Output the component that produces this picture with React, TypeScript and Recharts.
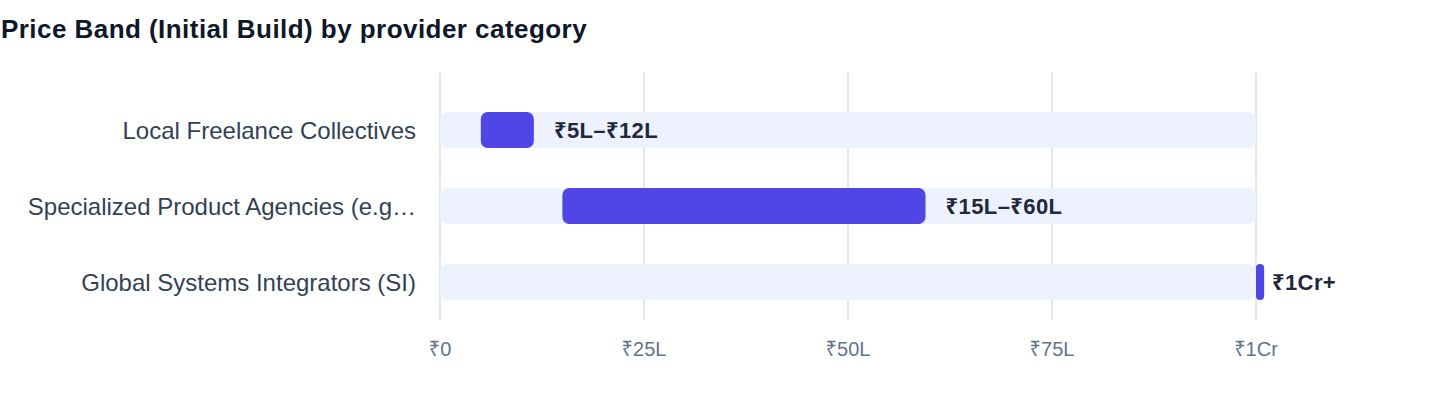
import React from 'react';
import { BarChart, Bar, XAxis, YAxis, CartesianGrid, LabelList } from 'recharts';

const categories = [
  'Local Freelance Collectives',
  'Specialized Product Agencies (e.g…',
  'Global Systems Integrators (SI)',
];
const lows = [5, 15, 100];
const highs = [11.5, 59.5, 101];
const labelAt = [12, 60, 100];
const bandLabels = ['₹5L–₹12L', '₹15L–₹60L', '₹1Cr+'];
const xTicks = [0, 25, 50, 75, 100];
const xTickLabels: Record<number, string> = { 0: '₹0', 25: '₹25L', 50: '₹50L', 75: '₹75L', 100: '₹1Cr' };

const data = categories.map((name, i) => ({
  name,
  track: [0, 100],
  range: [lows[i], highs[i]],
  anchor: [0, labelAt[i]],
  label: bandLabels[i],
}));

const FONT = '"Liberation Sans", Arial, "Noto Sans", sans-serif';

const App: React.FC = () => {
  return (
    <div style={{ position: 'absolute', left: 0, top: 0, width: 1440, height: 408, fontFamily: FONT }}>
      <div
        style={{
          position: 'absolute',
          left: 1,
          top: 16,
          fontSize: 26,
          lineHeight: 1,
          fontWeight: 700,
          color: '#0f172a',
          letterSpacing: 0.45,
          whiteSpace: 'nowrap',
        }}
      >
        Price Band (Initial Build) by provider category
      </div>
      <BarChart
        width={1440}
        height={408}
        data={data}
        layout="vertical"
        margin={{ top: 72, right: 102.4, bottom: 48, left: 0 }}
        barSize={36}
        barGap={-36}
      >
        <CartesianGrid horizontal={false} verticalValues={xTicks} stroke="#e2e8f0" strokeWidth={2} />
        <XAxis
          type="number"
          domain={[0, 110]}
          ticks={xTicks}
          tickFormatter={(v: number) => xTickLabels[v]}
          axisLine={false}
          tickLine={false}
          tickSize={0}
          tickMargin={22}
          height={40}
          tick={{ fill: '#64748b', fontSize: 20, fontFamily: FONT }}
          allowDataOverflow
        />
        <YAxis
          type="category"
          dataKey="name"
          width={440}
          axisLine={false}
          tickLine={false}
          tickSize={0}
          tickMargin={24}
          padding={{ top: 20, bottom: 0 }}
          tick={{ fill: '#334155', fontSize: 24, fontFamily: FONT }}
        />
        <Bar dataKey="track" fill="#eef2ff" radius={7} isAnimationActive={false} />
        <Bar dataKey="range" fill="#4f46e5" radius={7} isAnimationActive={false} />
        <Bar dataKey="anchor" fill="transparent" isAnimationActive={false}>
          <LabelList
            dataKey="label"
            position="right"
            offset={16}
            style={{ fill: '#1e293b', fontSize: 22, fontWeight: 700, letterSpacing: 0.4, fontFamily: FONT }}
          />
        </Bar>
      </BarChart>
    </div>
  );
};

export default App;
